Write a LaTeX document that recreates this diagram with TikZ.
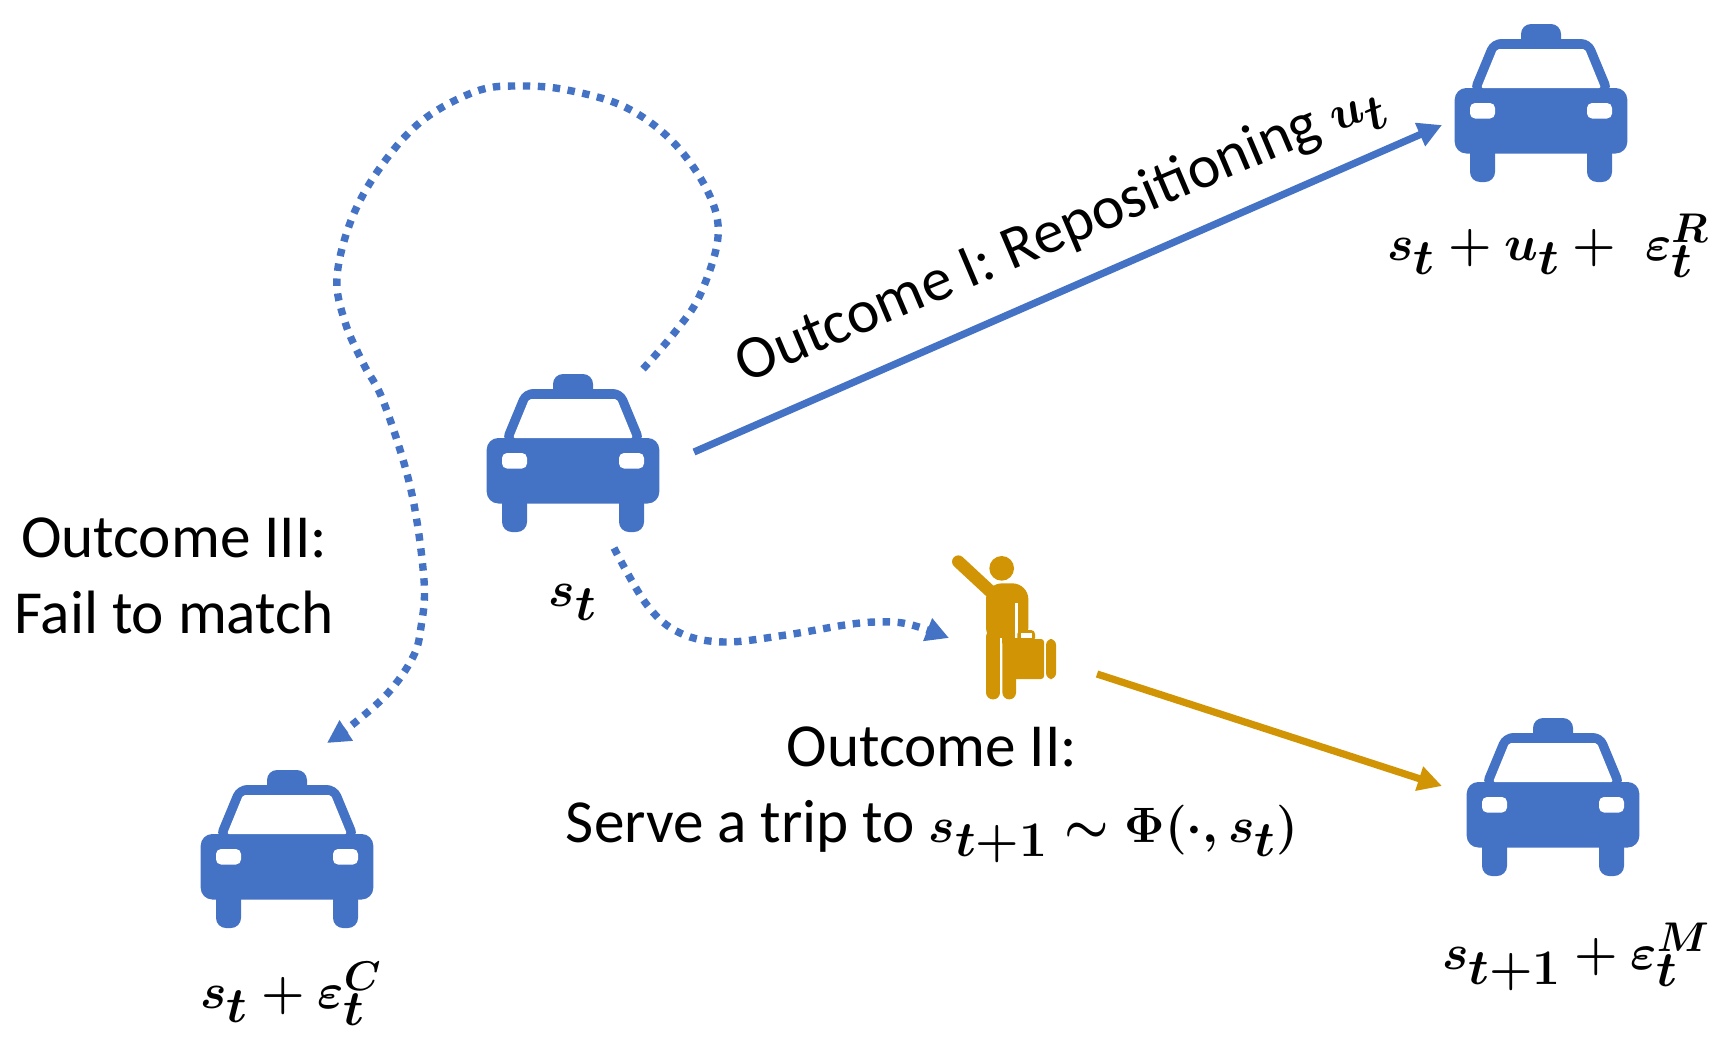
\documentclass[tikz,border=0pt]{standalone}
\usepackage{fontspec}
\setmainfont{Carlito}
\usetikzlibrary{arrows.meta}
\definecolor{tblue}{RGB}{68,114,196}
\definecolor{tgold}{RGB}{208,148,4}
\newcommand{\mathA}[1]{{\fontsize{33}{38}\selectfont\boldmath$#1$}}
\newcommand{\mathB}[1]{{\fontsize{39}{38}\selectfont\boldmath$#1$}}
\newcommand{\bigeps}{\mbox{\fontsize{43}{43}\selectfont\boldmath$\varepsilon$}}
\newcommand{\supl}[1]{\mbox{\fontsize{21}{21}\selectfont\boldmath$#1$}}
\tikzset{
  lbl/.style={font=\fontsize{30.6}{38}\selectfont,inner sep=0pt,align=center,text=black},
  mathlbl/.style={font=\fontsize{36}{40}\selectfont\boldmath,inner sep=0pt,text=black},
  solidarrow/.style={line width=3.6pt,-{Triangle[length=12pt,width=12pt]}},
  dotarrow/.style={tblue,line width=3.7pt,dash pattern=on 3.7pt off 3.8pt,-{Triangle[length=11.5pt,width=11.5pt,sep=0pt]}},
  taxi/.pic={
    \fill[tblue,rounded corners=5.8pt] (-86.3,78) rectangle (86.3,143.5);
    \fill[tblue,rounded corners=5pt] (-71,130) rectangle (-46,172);
    \fill[tblue,rounded corners=5pt] (46,130) rectangle (71,172);
    \fill[tblue,rounded corners=5pt] (-20,45) -- (-20,14) -- (20,14) -- (20,45) -- cycle;
    \fill[tblue,rounded corners=5pt] (-72,82) -- (-50,29) -- (50,29) -- (72,82) -- cycle;
    \fill[white,rounded corners=1pt] (-60,78) -- (-44,39) -- (44,39) -- (60,78) -- cycle;
    \fill[white,rounded corners=2.5pt] (-71,93) rectangle (-46,108.5);
    \fill[white,rounded corners=2.5pt] (46,93) rectangle (71,108.5);
  },
}
\begin{document}
\begin{tikzpicture}[x=0.5pt,y=-0.5pt]
\useasboundingbox (0,0) rectangle (1728,1044);
% taxis
\pic at (573,360) {taxi};
\pic at (1541,10) {taxi};
\pic at (1553,704) {taxi};
\pic at (287,756) {taxi};
\coordinate (t1r) at (694,452);
\coordinate (t1t) at (643,369);
\coordinate (t1b) at (614,548);
\coordinate (t2l) at (1442,125);
\coordinate (t3l) at (1442,786);
\coordinate (t4t) at (327,743);
\coordinate (pl) at (949,638);
\coordinate (pr) at (1097,674);
% person
\begin{scope}[shift={(920,530)},x=0.1667pt,y=-0.1667pt]
  \fill[tgold] (245,115) circle[radius=37];
  \draw[tgold,line width=6.3pt,line cap=round] (115,95) -- (212,185);
  \fill[tgold,rounded corners=8pt] (198,340) -- (198,160) -- (325,160) -- (325,340) -- cycle;
  \fill[tgold,rounded corners=3.4pt] (198,300) rectangle (240,508);
  \fill[tgold,rounded corners=3.4pt] (247,300) rectangle (288,508);
  \fill[white] (240,325) rectangle (247,510);
  \fill[white] (285,218) rectangle (295,325);
  \fill[tgold,rounded corners=2pt] (292,300) rectangle (345,335);
  \fill[white] (304,310) rectangle (335,325);
  \fill[tgold,rounded corners=1.5pt] (270,327) rectangle (372,447);
  \fill[tgold,rounded corners=3pt] (378,327) rectangle (408,447);
\end{scope}
% connectors
\draw[tblue,solidarrow] (t1r) -- (t2l);
\draw[tgold,solidarrow] (pr) -- (t3l);
\draw[dotarrow] plot[smooth,tension=0.6] coordinates {(t1t) (675,332) (700,295) (718,237) (708,192) (673,142) (625,107) (567,90) (520,86) (477,91) (423,120) (382,165) (352,218) (337,277) (345,322) (363,363) (384,403) (411,490) (424,580) (421,627) (413,657) (388,693) (352,725) (t4t)};
\draw[dotarrow] plot[smooth,tension=0.6] coordinates {(t1b) (647,605) (680,633) (725,642) (786,635) (845,625) (876,622) (908,624) (pl)};
% labels
\node[lbl] (lab1) at (1061,234) [rotate=23.0] {Outcome I: Repositioning \mathB{u_t}};
\node[lbl] (lab3) at (174,576) {Outcome III:\\Fail to match};
\node[lbl] (lab2) at (932,795) {Outcome II:\\Serve a trip to \mathA{s_{t+1}\sim\Phi(\cdot,s_t)}};
\node[mathlbl] (m1) at (573,602) {$s_t$};
\node[mathlbl] (m2) at (1548,246) {$s_t+u_t+\ \bigeps_t^{\supl{R}}$};
\node[mathlbl] (m3) at (1576,957) {$s_{t+1}+\bigeps_t^{\supl{M}}$};
\node[mathlbl] (m4) at (291,994) {$s_t+\bigeps_t^{\supl{C}}$};
\end{tikzpicture}
\end{document}
